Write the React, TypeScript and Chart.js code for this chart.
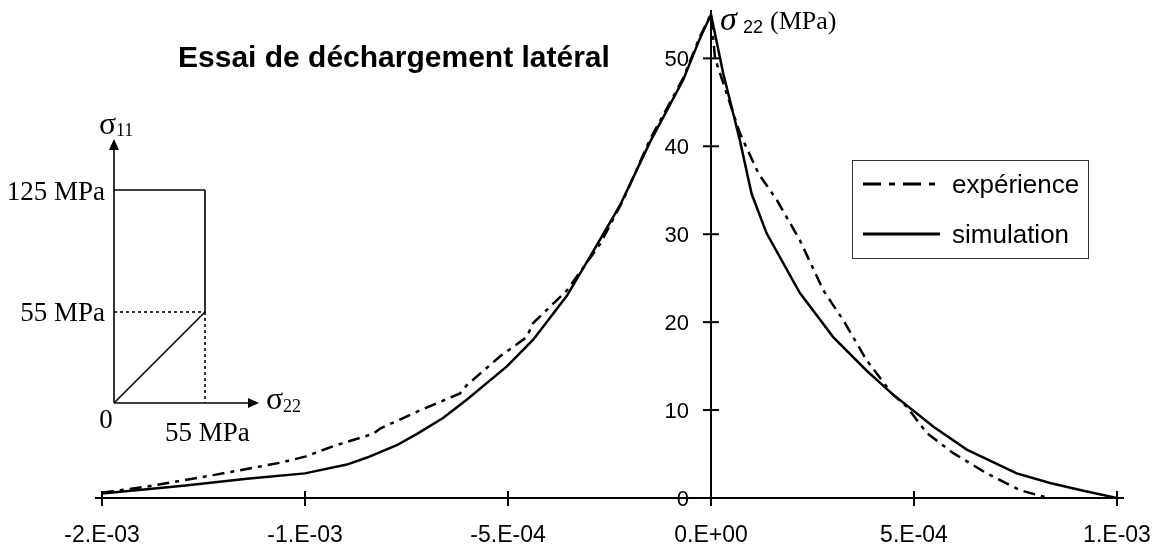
import React, { useEffect, useRef } from 'react';
import { Chart, registerables } from 'chart.js';

Chart.register(...registerables);

// ---- data ----
const simX = [
  -1.5e-3, -1.3e-3, -1.143e-3, -1.0e-3, -8.97e-4, -8.47e-4, -7.74e-4, -7.24e-4, -6.6e-4, -6.01e-4,
  -5.02e-4, -4.38e-4, -3.55e-4, -2.91e-4, -2.24e-4, -1.5e-4, -6.9e-5, -2.7e-5, 0,
  3.0e-5, 7.1e-5, 1.0e-4, 1.37e-4, 2.19e-4, 3.01e-4, 3.83e-4, 4.45e-4, 5.48e-4, 6.3e-4,
  7.53e-4, 8.35e-4, 9.2e-4, 1.0e-3,
];
const simY = [
  0.5, 1.4, 2.2, 2.8, 3.8, 4.6, 6.0, 7.3, 9.1, 11.2,
  15.0, 18.0, 23.0, 28.0, 33.3, 40.5, 47.5, 52.3, 55,
  48.3, 40.7, 34.6, 30.1, 23.3, 18.3, 14.5, 11.9, 8.1, 5.5,
  2.8, 1.7, 0.8, 0,
];
const expX = [
  -1.5e-3, -1.39e-3, -1.226e-3, -1.062e-3, -1.0e-3, -9.3e-4, -8.32e-4, -8.15e-4, -7.25e-4, -6.18e-4,
  -6.02e-4, -5.2e-4, -4.54e-4, -4.38e-4, -3.55e-4, -2.73e-4, -2.16e-4, -1.5e-4, -6.9e-5, -2.7e-5, 0,
  1.0e-5, 7.1e-5, 1.17e-4, 1.62e-4, 2.19e-4, 2.77e-4, 3.26e-4, 3.83e-4, 4.45e-4, 4.82e-4,
  5.31e-4, 5.97e-4, 6.79e-4, 7.61e-4, 8.3e-4,
];
const expY = [
  0.6, 1.3, 2.6, 4.0, 4.7, 5.9, 7.3, 7.9, 9.8, 11.9,
  12.8, 16.1, 18.3, 19.9, 23.6, 28.9, 33.9, 40.8, 47.7, 52.5, 55,
  50.0, 41.5, 36.9, 33.9, 29.3, 23.6, 20.2, 15.7, 11.9, 10.4,
  7.4, 5.1, 2.8, 0.9, 0,
];

const xTickValues = [-1.5e-3, -1e-3, -5e-4, 0, 5e-4, 1e-3];
const xTickLabels = ['-2.E-03', '-1.E-03', '-5.E-04', '0.E+00', '5.E-04', '1.E-03'];
const yTickValues = [0, 10, 20, 30, 40, 50];
const yTickLabels = ['0', '10', '20', '30', '40', '50'];
const seriesNames = ['expérience', 'simulation'];
const titleText = 'Essai de déchargement latéral';
const yAxisSymbol = 'σ';
const yAxisSub = '22';
const yAxisUnit = '(MPa)';
const insetLabels = { top: '125 MPa', mid: '55 MPa', origin: '0', right: '55 MPa', s11: '11', s22: '22' };

const SANS = '"Liberation Sans", Arial, sans-serif';
const SERIF = '"Liberation Serif", "Times New Roman", serif';

const decorPlugin = {
  id: 'decor',
  afterDatasetsDraw(chart: any) {
    const { ctx, scales } = chart;
    const xs = scales.x;
    const ys = scales.y;
    const x0 = xs.getPixelForValue(0);
    const y0 = ys.getPixelForValue(0);
    const line = (a: number, b: number, c: number, d: number) => {
      ctx.beginPath();
      ctx.moveTo(a, b);
      ctx.lineTo(c, d);
      ctx.stroke();
    };
    ctx.save();
    ctx.strokeStyle = '#000';
    ctx.fillStyle = '#000';
    ctx.lineWidth = 2;
    ctx.setLineDash([]);

    // axes crossing at the origin
    line(xs.left - 7, y0, xs.right + 7, y0);
    line(x0, y0 + 1, x0, ys.top);

    ctx.font = `23px ${SANS}`;
    ctx.textAlign = 'center';
    ctx.textBaseline = 'alphabetic';
    xTickValues.forEach((v, i) => {
      const px = xs.getPixelForValue(v);
      line(px, y0 - 7, px, y0 + 8);
      ctx.fillText(xTickLabels[i], px, y0 + 44);
    });
    ctx.font = `22px ${SANS}`;
    ctx.textAlign = 'right';
    yTickValues.forEach((v, i) => {
      const py = ys.getPixelForValue(v);
      line(x0 - 8, py, x0 + 8, py);
      ctx.fillText(yTickLabels[i], x0 - 22, py + 8);
    });

    // y axis title
    ctx.textAlign = 'left';
    ctx.font = `italic 34px ${SERIF}`;
    ctx.fillText(yAxisSymbol, x0 + 9, 30);
    ctx.font = `18px ${SANS}`;
    ctx.fillText(yAxisSub, x0 + 32, 33);
    ctx.font = `26px ${SERIF}`;
    ctx.fillText(yAxisUnit, x0 + 59, 29);

    // chart title
    ctx.font = `bold 30px ${SANS}`;
    ctx.fillText(titleText, 178, 67);

    // legend box
    const ds = chart.data.datasets;
    const lx = 852, ly = 160, lw = 236, lh = 98;
    ctx.lineWidth = 1;
    ctx.strokeStyle = '#333';
    ctx.strokeRect(lx + 0.5, ly + 0.5, lw, lh);
    ctx.font = `26px ${SANS}`;
    ctx.textAlign = 'left';
    const legendDash = [[18, 8, 6, 8], []];
    ds.forEach((d: any, i: number) => {
      const yy = ly + 24 + i * 50;
      ctx.strokeStyle = d.borderColor;
      ctx.lineWidth = 3;
      ctx.setLineDash(legendDash[i]);
      line(lx + 11, yy, lx + 88, yy);
      ctx.setLineDash([]);
      ctx.fillText(d.label, lx + 100, yy + 9);
    });

    // inset loading-path diagram
    ctx.strokeStyle = '#000';
    ctx.lineWidth = 1.6;
    const ox = 114, oy = 403, cx = 205, cyTop = 190, cyMid = 312;
    line(ox, oy, ox, 148);
    line(ox, oy, 249, oy);
    ctx.beginPath();
    ctx.moveTo(ox, 139); ctx.lineTo(ox - 5, 150); ctx.lineTo(ox + 5, 150); ctx.closePath(); ctx.fill();
    ctx.beginPath();
    ctx.moveTo(259, oy); ctx.lineTo(248, oy - 5); ctx.lineTo(248, oy + 5); ctx.closePath(); ctx.fill();
    line(ox, cyTop, cx, cyTop);
    line(cx, cyTop, cx, cyMid);
    line(ox, oy, cx, cyMid);
    ctx.setLineDash([3, 3]);
    line(ox, cyMid, cx, cyMid);
    line(cx, cyMid, cx, oy);
    ctx.setLineDash([]);

    ctx.font = `27px ${SERIF}`;
    ctx.textAlign = 'right';
    ctx.fillText(insetLabels.top, 105, 200);
    ctx.fillText(insetLabels.mid, 105, 321);
    ctx.textAlign = 'center';
    ctx.fillText(insetLabels.origin, 106, 428);
    ctx.textAlign = 'left';
    ctx.fillText(insetLabels.right, 165, 441);
    ctx.font = `32px ${SERIF}`;
    ctx.fillText('σ', 99, 134);
    ctx.fillText('σ', 266, 409);
    ctx.font = `18px ${SERIF}`;
    ctx.fillText(insetLabels.s11, 116, 136);
    ctx.fillText(insetLabels.s22, 283, 412);
    ctx.restore();
  },
};

export default function App() {
  const ref = useRef<HTMLCanvasElement>(null);
  useEffect(() => {
    if (!ref.current) return;
    const chart = new Chart(ref.current, {
      type: 'scatter',
      data: {
        datasets: [
          {
            label: seriesNames[0],
            data: expX.map((x, i) => ({ x, y: expY[i] })),
            showLine: true,
            borderColor: '#000',
            backgroundColor: '#000',
            borderWidth: 2.5,
            borderDash: [12, 6, 4, 6],
            pointRadius: 0,
            tension: 0,
          },
          {
            label: seriesNames[1],
            data: simX.map((x, i) => ({ x, y: simY[i] })),
            showLine: true,
            borderColor: '#000',
            backgroundColor: '#000',
            borderWidth: 2.5,
            pointRadius: 0,
            tension: 0,
          },
        ],
      },
      options: {
        responsive: false,
        animation: false,
        layout: { padding: { left: 102, right: 43, top: 10, bottom: 49 } },
        scales: {
          x: { type: 'linear', min: -1.5e-3, max: 1e-3, display: false },
          y: { type: 'linear', min: 0, max: 55.5, display: false },
        },
        plugins: { legend: { display: false }, tooltip: { enabled: false } },
      },
      plugins: [decorPlugin],
    });
    return () => chart.destroy();
  }, []);
  return (
    <div style={{ position: 'fixed', left: 0, top: 0, width: 1160, height: 547, background: '#fff' }}>
      <canvas ref={ref} width={1160} height={547} style={{ display: 'block' }} />
    </div>
  );
}
